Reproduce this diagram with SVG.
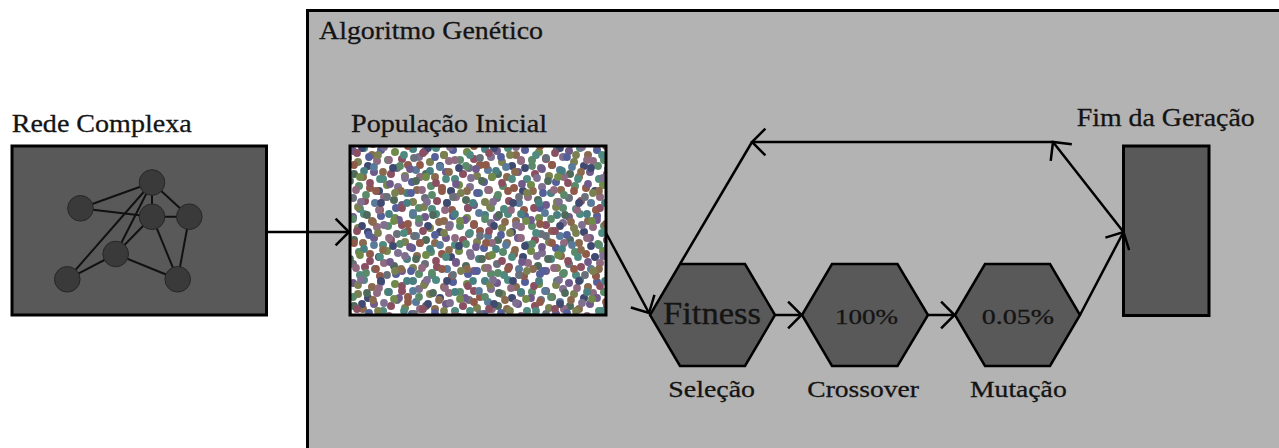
<svg xmlns="http://www.w3.org/2000/svg" width="1279" height="448" viewBox="0 0 1279 448">
  <style>
    text { font-family: "Liberation Serif", "Times New Roman", Times, serif; fill: #141414; stroke: #141414; stroke-width: 0.3; }
    .box { fill: #595959; stroke: #000; stroke-width: 3; }
    .hex { fill: #595959; stroke: #000; stroke-width: 2.5; stroke-linejoin: miter; }
    .edge { stroke: #111; stroke-width: 2; fill: none; }
    .vtx { fill: #3a3a3a; stroke: #262626; stroke-width: 1; }
    .conn { stroke: #000; stroke-width: 2.5; fill: none; }
    .arrow { marker-end: url(#chev); }
  </style>
  <defs>
    <marker id="chev" viewBox="-16 -16 18 32" refX="0" refY="0" markerWidth="18" markerHeight="32" markerUnits="userSpaceOnUse" orient="auto" overflow="visible">
      <path d="M -13.4 -13.4 L 0 0 L -13.4 13.4" fill="none" stroke="#000" stroke-width="2.5"/>
    </marker>
    <!-- two speckle layers with different tile sizes; edge dots are repeated on the far side so they wrap -->
    <pattern id="dotsA" patternUnits="userSpaceOnUse" x="350" y="146" width="72" height="66">
      <g>
        <circle cx="3" cy="5" r="4" fill="#6f5a8a"/><circle cx="75" cy="5" r="4" fill="#6f5a8a"/>
        <circle cx="14" cy="2" r="4" fill="#4f8a80"/><circle cx="14" cy="68" r="4" fill="#4f8a80"/>
        <circle cx="22" cy="9" r="4" fill="#8a6a4f"/>
        <circle cx="31" cy="4" r="4" fill="#55609a"/>
        <circle cx="45" cy="6" r="4" fill="#6f8a4a"/>
        <circle cx="52" cy="13" r="4" fill="#8a4f60"/>
        <circle cx="63" cy="3" r="4" fill="#4a7f80"/><circle cx="63" cy="69" r="4" fill="#4a7f80"/>
        <circle cx="69" cy="11" r="4" fill="#7f6f8f"/><circle cx="-3" cy="11" r="4" fill="#7f6f8f"/>
        <circle cx="8" cy="16" r="4" fill="#7a8050"/>
        <circle cx="18" cy="20" r="4" fill="#3f4a70"/>
        <circle cx="27" cy="15" r="4" fill="#8f6a80"/>
        <circle cx="38" cy="14" r="4" fill="#5a8a6a"/>
        <circle cx="47" cy="22" r="4" fill="#6a6f7a"/>
        <circle cx="58" cy="19" r="4" fill="#8f5a4a"/>
        <circle cx="66" cy="24" r="4" fill="#5a7a9a"/>
        <circle cx="4" cy="28" r="4" fill="#4f6a5a"/><circle cx="76" cy="28" r="4" fill="#4f6a5a"/>
        <circle cx="13" cy="31" r="4" fill="#8a6a4f"/>
        <circle cx="24" cy="26" r="4" fill="#6f5a8a"/>
        <circle cx="33" cy="33" r="4" fill="#4f8a80"/>
        <circle cx="41" cy="28" r="4" fill="#8a4f60"/>
        <circle cx="55" cy="30" r="4" fill="#7a8050"/>
        <circle cx="62" cy="36" r="4" fill="#55609a"/>
        <circle cx="70" cy="31" r="4" fill="#8f6a80"/><circle cx="-2" cy="31" r="4" fill="#8f6a80"/>
        <circle cx="9" cy="40" r="4" fill="#5a8a6a"/>
        <circle cx="20" cy="42" r="4" fill="#8f5a4a"/>
        <circle cx="29" cy="45" r="4" fill="#3f4a70"/>
        <circle cx="37" cy="39" r="4" fill="#6f8a4a"/>
        <circle cx="48" cy="41" r="4" fill="#7f6f8f"/>
        <circle cx="57" cy="47" r="4" fill="#4a7f80"/>
        <circle cx="67" cy="44" r="4" fill="#8a6a4f"/><circle cx="-5" cy="44" r="4" fill="#8a6a4f"/>
        <circle cx="3" cy="52" r="4" fill="#6a6f7a"/><circle cx="75" cy="52" r="4" fill="#6a6f7a"/>
        <circle cx="15" cy="55" r="4" fill="#8a4f60"/>
        <circle cx="25" cy="57" r="4" fill="#5a7a9a"/>
        <circle cx="34" cy="51" r="4" fill="#8f6a80"/>
        <circle cx="44" cy="54" r="4" fill="#4f6a5a"/>
        <circle cx="52" cy="59" r="4" fill="#6f5a8a"/>
        <circle cx="63" cy="56" r="4" fill="#7a8050"/>
        <circle cx="10" cy="63" r="4" fill="#4f8a80"/><circle cx="10" cy="-3" r="4" fill="#4f8a80"/>
        <circle cx="30" cy="64" r="4" fill="#8f5a4a"/><circle cx="30" cy="-2" r="4" fill="#8f5a4a"/>
        <circle cx="46" cy="62" r="4" fill="#55609a"/><circle cx="46" cy="-4" r="4" fill="#55609a"/>
        <circle cx="69" cy="62" r="4" fill="#5a8a6a"/><circle cx="-3" cy="62" r="4" fill="#5a8a6a"/>
      </g>
    </pattern>
    <pattern id="dotsB" patternUnits="userSpaceOnUse" x="331" y="127" width="66" height="78">
      <g>
        <circle cx="5" cy="3" r="3.9" fill="#8a4f60"/><circle cx="5" cy="81" r="3.9" fill="#8a4f60"/>
        <circle cx="16" cy="8" r="3.9" fill="#5a7a9a"/>
        <circle cx="27" cy="2" r="3.9" fill="#7a8050"/><circle cx="27" cy="80" r="3.9" fill="#7a8050"/>
        <circle cx="36" cy="10" r="3.9" fill="#4f6a5a"/>
        <circle cx="48" cy="5" r="3.9" fill="#8f6a80"/>
        <circle cx="58" cy="9" r="3.9" fill="#4a7f80"/>
        <circle cx="2" cy="15" r="3.9" fill="#6f5a8a"/><circle cx="68" cy="15" r="3.9" fill="#6f5a8a"/>
        <circle cx="11" cy="19" r="3.9" fill="#8f5a4a"/>
        <circle cx="22" cy="14" r="3.9" fill="#5a8a6a"/>
        <circle cx="31" cy="21" r="3.9" fill="#3f4a70"/>
        <circle cx="42" cy="17" r="3.9" fill="#8a6a4f"/>
        <circle cx="53" cy="20" r="3.9" fill="#7f6f8f"/>
        <circle cx="63" cy="16" r="3.9" fill="#6f8a4a"/><circle cx="-3" cy="16" r="3.9" fill="#6f8a4a"/>
        <circle cx="7" cy="28" r="3.9" fill="#4f8a80"/>
        <circle cx="17" cy="31" r="3.9" fill="#6a6f7a"/>
        <circle cx="26" cy="26" r="3.9" fill="#8a4f60"/>
        <circle cx="38" cy="30" r="3.9" fill="#55609a"/>
        <circle cx="47" cy="28" r="3.9" fill="#7a8050"/>
        <circle cx="58" cy="33" r="3.9" fill="#8f6a80"/>
        <circle cx="3" cy="39" r="3.9" fill="#5a8a6a"/><circle cx="69" cy="39" r="3.9" fill="#5a8a6a"/>
        <circle cx="13" cy="42" r="3.9" fill="#6f5a8a"/>
        <circle cx="23" cy="38" r="3.9" fill="#8f5a4a"/>
        <circle cx="33" cy="44" r="3.9" fill="#4a7f80"/>
        <circle cx="43" cy="40" r="3.9" fill="#5a7a9a"/>
        <circle cx="52" cy="45" r="3.9" fill="#8a6a4f"/>
        <circle cx="62" cy="41" r="3.9" fill="#3f4a70"/><circle cx="-4" cy="41" r="3.9" fill="#3f4a70"/>
        <circle cx="8" cy="51" r="3.9" fill="#7f6f8f"/>
        <circle cx="19" cy="54" r="3.9" fill="#4f6a5a"/>
        <circle cx="29" cy="50" r="3.9" fill="#6f8a4a"/>
        <circle cx="39" cy="56" r="3.9" fill="#8a4f60"/>
        <circle cx="49" cy="52" r="3.9" fill="#4f8a80"/>
        <circle cx="59" cy="57" r="3.9" fill="#6f5a8a"/>
        <circle cx="4" cy="64" r="3.9" fill="#8a6a4f"/><circle cx="70" cy="64" r="3.9" fill="#8a6a4f"/>
        <circle cx="14" cy="66" r="3.9" fill="#55609a"/>
        <circle cx="25" cy="63" r="3.9" fill="#8f6a80"/>
        <circle cx="35" cy="68" r="3.9" fill="#5a8a6a"/>
        <circle cx="45" cy="64" r="3.9" fill="#8f5a4a"/>
        <circle cx="56" cy="70" r="3.9" fill="#6a6f7a"/>
        <circle cx="64" cy="66" r="3.9" fill="#7a8050"/><circle cx="-2" cy="66" r="3.9" fill="#7a8050"/>
        <circle cx="10" cy="76" r="3.9" fill="#4a7f80"/><circle cx="10" cy="-2" r="3.9" fill="#4a7f80"/>
        <circle cx="30" cy="75" r="3.9" fill="#7f6f8f"/><circle cx="30" cy="-3" r="3.9" fill="#7f6f8f"/>
        <circle cx="50" cy="76" r="3.9" fill="#3f4a70"/><circle cx="50" cy="-2" r="3.9" fill="#3f4a70"/>
      </g>
    </pattern>
    <filter id="soft" x="0" y="0" width="1" height="1">
      <feGaussianBlur stdDeviation="0.7"/>
    </filter>
  </defs>

  <rect width="1279" height="448" fill="#fff"/>

  <!-- genetic algorithm frame -->
  <g id="algoritmo">
    <rect x="307.5" y="10.5" width="1000" height="500" fill="#b3b3b3" stroke="#000" stroke-width="3"/>
    <text x="319" y="39.3" font-size="25" textLength="224" lengthAdjust="spacingAndGlyphs">Algoritmo Genético</text>
  </g>

  <!-- complex network input -->
  <g id="rede">
    <text x="11.7" y="132" font-size="26" textLength="180" lengthAdjust="spacingAndGlyphs">Rede Complexa</text>
    <rect class="box" x="12" y="146" width="254.5" height="169"/>
    <g>
      <line class="edge" x1="152" y1="182.5" x2="80.5" y2="208.3"/>
      <line class="edge" x1="80.5" y1="208.3" x2="152" y2="216.7"/>
      <line class="edge" x1="152" y1="182.5" x2="152" y2="216.7"/>
      <line class="edge" x1="152" y1="182.5" x2="189.3" y2="216.7"/>
      <line class="edge" x1="152" y1="216.7" x2="189.3" y2="216.7"/>
      <line class="edge" x1="152" y1="182.5" x2="67.3" y2="279.3"/>
      <line class="edge" x1="152" y1="182.5" x2="115.7" y2="254"/>
      <line class="edge" x1="152" y1="216.7" x2="115.7" y2="254"/>
      <line class="edge" x1="152" y1="216.7" x2="177.7" y2="279.3"/>
      <line class="edge" x1="189.3" y1="216.7" x2="177.7" y2="279.3"/>
      <line class="edge" x1="115.7" y1="254" x2="177.7" y2="279.3"/>
      <line class="edge" x1="67.3" y1="279.3" x2="115.7" y2="254"/>
      <circle class="vtx" cx="152" cy="182.5" r="12.8"/>
      <circle class="vtx" cx="80.5" cy="208.3" r="12.8"/>
      <circle class="vtx" cx="152" cy="216.7" r="12.8"/>
      <circle class="vtx" cx="189.3" cy="216.7" r="12.8"/>
      <circle class="vtx" cx="115.7" cy="254" r="12.8"/>
      <circle class="vtx" cx="67.3" cy="279.3" r="12.8"/>
      <circle class="vtx" cx="177.7" cy="279.3" r="12.8"/>
    </g>
  </g>

  <!-- initial population -->
  <g id="populacao">
    <text x="351" y="131.7" font-size="25" textLength="196" lengthAdjust="spacingAndGlyphs">População Inicial</text>
    <g filter="url(#soft)">
      <rect x="350" y="146" width="256" height="169" fill="#fff"/>
      <rect x="350" y="146" width="256" height="169" fill="url(#dotsA)"/>
      <rect x="350" y="146" width="256" height="169" fill="url(#dotsB)"/>
    </g>
    <rect x="350" y="146" width="256" height="169" fill="none" stroke="#000" stroke-width="3"/>
  </g>

  <!-- selection -->
  <g id="selecao">
    <polygon class="hex" points="650,315 680,264 745,264 775,315 745,366 680,366"/>
    <text x="663" y="323.5" font-size="31" textLength="98" lengthAdjust="spacingAndGlyphs">Fitness</text>
    <text x="668.3" y="397" font-size="24" textLength="86.7" lengthAdjust="spacingAndGlyphs">Seleção</text>
  </g>

  <!-- crossover -->
  <g id="crossover">
    <polygon class="hex" points="802,315 832,264 897.5,264 928,315 897.5,366 832,366"/>
    <text x="835" y="324" font-size="22" textLength="63" lengthAdjust="spacingAndGlyphs">100%</text>
    <text x="807.3" y="397" font-size="24" textLength="111.7" lengthAdjust="spacingAndGlyphs">Crossover</text>
  </g>

  <!-- mutation -->
  <g id="mutacao">
    <polygon class="hex" points="955,315 985,264 1050,264 1080,315 1050,366 985,366"/>
    <text x="981.7" y="324.3" font-size="22" textLength="72.3" lengthAdjust="spacingAndGlyphs">0.05%</text>
    <text x="970" y="396.7" font-size="24" textLength="96.7" lengthAdjust="spacingAndGlyphs">Mutação</text>
  </g>

  <!-- end of generation -->
  <g id="fim">
    <text x="1076.7" y="125.7" font-size="25" textLength="178" lengthAdjust="spacingAndGlyphs">Fim da Geração</text>
    <rect class="box" x="1123.5" y="146" width="85.5" height="169.5"/>
  </g>

  <!-- connectors -->
  <g id="conectores">
    <line class="conn arrow" x1="267" y1="232" x2="349" y2="232"/>
    <line class="conn arrow" x1="606" y1="233" x2="649" y2="313"/>
    <line class="conn arrow" x1="775" y1="315" x2="801.5" y2="315"/>
    <line class="conn arrow" x1="928" y1="315" x2="954.5" y2="315"/>
    <line class="conn arrow" x1="1080" y1="315" x2="1123.5" y2="232"/>
    <line class="conn arrow" x1="1123.5" y1="232" x2="1053" y2="142"/>
    <line class="conn arrow" x1="1053" y1="142" x2="752" y2="142"/>
    <line class="conn" x1="752" y1="142" x2="680" y2="264"/>
  </g>
</svg>
